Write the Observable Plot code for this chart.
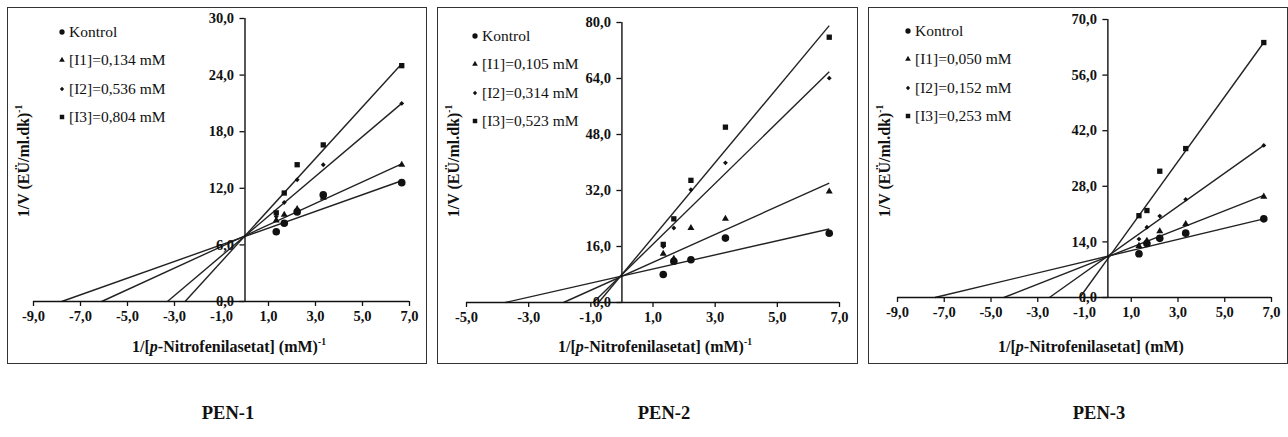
<!DOCTYPE html>
<html>
<head>
<meta charset="utf-8">
<script src="https://cdn.jsdelivr.net/npm/d3@7"></script>
<script src="https://cdn.jsdelivr.net/npm/@observablehq/plot@0.6"></script>
<style>
  body { margin: 0; background: #fff; }
  #root { position: relative; width: 1288px; height: 437px; font-family: "Liberation Serif", "Times New Roman", serif; color: #111; overflow: hidden; }
  .box { position: absolute; box-sizing: border-box; border: 1.5px solid #333; }
  .plot { position: absolute; }
  .ytitle, .xtitle, .pen { position: absolute; white-space: nowrap; font-weight: bold; }
  .ytitle { font-size: 16px; transform: translate(-50%, -50%) rotate(-90deg); }
  .xtitle { font-size: 16px; transform: translate(-50%, -50%); }
  .pen { font-size: 18.5px; transform: translate(-50%, -50%); }
  sup { font-size: 0.6em; vertical-align: 0.7em; line-height: 0; }
  .legend { position: absolute; font-size: 15.5px; }
  .legend .row { position: absolute; white-space: nowrap; transform: translateY(-50%); }
  .legend svg { position: absolute; overflow: visible; }
</style>
</head>
<body>
<div id="root"></div>
<script>
// ---------- data ----------
const xValues = [1.33, 1.67, 2.22, 3.33, 6.67];
const seriesSymbols = ["circle", "triangle", "diamond2", "square"];

// PEN-1
const pen1Kontrol = [7.4, 8.3, 9.5, 11.3, 12.6];
const pen1I1 = [8.6, 9.2, 9.8, 11.0, 14.5];
const pen1I2 = [9.0, 10.5, 12.9, 14.5, 21.0];
const pen1I3 = [9.4, 11.5, 14.5, 16.6, 25.0];
const pen1LineXIntercepts = [-7.8, -6.1, -3.3, -2.55];
const pen1LineEnds = [12.8, 14.6, 21.0, 25.2];
const pen1Legend = ["Kontrol", "[I1]=0,134 mM", "[I2]=0,536 mM", "[I3]=0,804 mM"];
const pen1XTicks = [-9, -7, -5, -3, -1, 1, 3, 5, 7];
const pen1YTicks = [0, 6, 12, 18, 24, 30];

// PEN-2
const pen2Kontrol = [8.0, 11.8, 12.2, 18.4, 19.8];
const pen2I1 = [13.9, 12.5, 21.3, 23.9, 31.7];
const pen2I2 = [16.0, 21.3, 32.2, 39.9, 64.1];
const pen2I3 = [16.6, 23.9, 34.9, 50.1, 75.8];
const pen2LineXIntercepts = [-3.75, -1.88, -0.92, -0.75];
const pen2LineEnds = [21.0, 34.1, 65.9, 79.1];
const pen2Legend = ["Kontrol", "[I1]=0,105 mM", "[I2]=0,314 mM", "[I3]=0,523 mM"];
const pen2XTicks = [-5, -3, -1, 1, 3, 5, 7];
const pen2YTicks = [0, 16, 32, 48, 64, 80];

// PEN-3
const pen3Kontrol = [11.0, 13.6, 14.9, 16.2, 19.8];
const pen3I1 = [13.0, 14.3, 16.7, 18.5, 25.4];
const pen3I2 = [14.7, 17.7, 20.5, 24.7, 38.3];
const pen3I3 = [20.6, 21.9, 31.8, 37.5, 64.2];
const pen3LineXIntercepts = [-7.4, -4.45, -2.5, -1.2];
const pen3LineEnds = [19.8, 25.7, 38.3, 64.2];
const pen3Legend = ["Kontrol", "[I1]=0,050 mM", "[I2]=0,152 mM", "[I3]=0,253 mM"];
const pen3XTicks = [-9, -7, -5, -3, -1, 1, 3, 5, 7];
const pen3YTicks = [0, 14, 28, 42, 56, 70];

const panelTitles = ["PEN-1", "PEN-2", "PEN-3"];
const yTitle = '1/V (EÜ/ml.dk)<sup>-1</sup>';
const xTitles = [
  '1/[<i>p</i>-Nitrofenilasetat] (mM)<sup>-1</sup>',
  '1/[<i>p</i>-Nitrofenilasetat] (mM)<sup>-1</sup>',
  '1/[<i>p</i>-Nitrofenilasetat] (mM)'
];

// ---------- layout ----------
const panels = [
  { series: [pen1Kontrol, pen1I1, pen1I2, pen1I3], xInt: pen1LineXIntercepts, ends: pen1LineEnds, legend: pen1Legend,
    xTicks: pen1XTicks, yTicks: pen1YTicks,
    left: 7, width: 420, mL: 26, mR: 18, mT: 11, mB: 63,
    legendX: 62, legendY: 32, titleX: 229, penX: 228 },
  { series: [pen2Kontrol, pen2I1, pen2I2, pen2I3], xInt: pen2LineXIntercepts, ends: pen2LineEnds, legend: pen2Legend,
    xTicks: pen2XTicks, yTicks: pen2YTicks,
    left: 437, width: 421, mL: 29, mR: 19, mT: 15, mB: 62,
    legendX: 475, legendY: 36, titleX: 655, penX: 664 },
  { series: [pen3Kontrol, pen3I1, pen3I2, pen3I3], xInt: pen3LineXIntercepts, ends: pen3LineEnds, legend: pen3Legend,
    xTicks: pen3XTicks, yTicks: pen3YTicks,
    left: 868, width: 420, mL: 29, mR: 17, mT: 12, mB: 67,
    legendX: 908, legendY: 31, titleX: 1091, penX: 1099 }
];
const TOP = 7, HEIGHT = 357;
const dotR = [3.8, 2.6, 2.2, 3.0];
const fmt = d => d.toFixed(1).replace(".", ",");
const root = document.getElementById("root");

panels.forEach((p, pi) => {
  const xDomain = [p.xTicks[0], p.xTicks[p.xTicks.length - 1]];
  const yDomain = [p.yTicks[0], p.yTicks[p.yTicks.length - 1]];
  const plotW = p.width - p.mL - p.mR;
  const zeroOffset = (0 - xDomain[0]) / (xDomain[1] - xDomain[0]) * plotW;
  const xEnd = xValues[xValues.length - 1];
  const lines = p.xInt.map((xi, i) => ({ x0: xi, y0: 0, x1: xEnd, y1: p.ends[i] }));
  const dotMarks = p.series.map((vals, si) =>
    Plot.dot(vals.map((v, j) => ({ x: xValues[j], y: v })), {
      x: "x", y: "y", symbol: seriesSymbols[si], r: dotR[si], fill: "#111", stroke: "none"
    })
  );
  const chart = Plot.plot({
    width: p.width, height: HEIGHT,
    marginLeft: p.mL, marginRight: p.mR, marginTop: p.mT, marginBottom: p.mB,
    x: { domain: xDomain },
    y: { domain: yDomain },
    style: { fontFamily: '"Liberation Serif", "Times New Roman", serif', fontSize: "14.5px", fontWeight: "bold", color: "#111", background: "transparent", overflow: "visible" },
    marks: [
      Plot.link(lines, { x1: "x0", y1: "y0", x2: "x1", y2: "y1", stroke: "#222", strokeWidth: 1.4 }),
      ...dotMarks,
      Plot.ruleY([0], { stroke: "#111", strokeWidth: 1.4 }),
      Plot.ruleX([0], { stroke: "#111", strokeWidth: 1.4 }),
      Plot.axisX({ ticks: p.xTicks, tickFormat: fmt, tickSize: 5, tickPadding: 4, label: null, strokeWidth: 1.3 }),
      Plot.axisY({ anchor: "left", dx: zeroOffset, ticks: p.yTicks, tickFormat: fmt, tickSize: 5, tickPadding: 6, label: null, strokeWidth: 1.3 })
    ]
  });
  chart.classList.add("plot");
  chart.style.left = p.left + "px";
  chart.style.top = TOP + "px";

  const box = document.createElement("div");
  box.className = "box";
  box.style.left = p.left + "px";
  box.style.top = TOP + "px";
  box.style.width = p.width + "px";
  box.style.height = HEIGHT + "px";
  root.appendChild(box);
  root.appendChild(chart);

  // legend
  const lg = document.createElement("div");
  lg.className = "legend";
  lg.style.left = "0px"; lg.style.top = "0px";
  const legendSym = [d3.symbolCircle, d3.symbolTriangle, d3.symbolDiamond2, d3.symbolSquare];
  const legendSize = [22, 14, 12, 20];
  p.legend.forEach((name, i) => {
    const cy = p.legendY + i * 28.3;
    const s = document.createElementNS("http://www.w3.org/2000/svg", "svg");
    s.setAttribute("width", 10); s.setAttribute("height", 10);
    s.style.left = (p.legendX - 5) + "px";
    s.style.top = (cy - 5) + "px";
    const path = document.createElementNS("http://www.w3.org/2000/svg", "path");
    path.setAttribute("d", d3.symbol(legendSym[i], legendSize[i])());
    path.setAttribute("transform", "translate(5,5)");
    path.setAttribute("fill", "#111");
    s.appendChild(path);
    lg.appendChild(s);
    const row = document.createElement("div");
    row.className = "row";
    row.style.left = (p.legendX + 7) + "px";
    row.style.top = cy + "px";
    row.textContent = name;
    lg.appendChild(row);
  });
  root.appendChild(lg);

  const yt = document.createElement("div");
  yt.className = "ytitle";
  yt.style.left = (p.left + 17) + "px";
  yt.style.top = "161px";
  yt.innerHTML = yTitle;
  root.appendChild(yt);

  const xt = document.createElement("div");
  xt.className = "xtitle";
  xt.style.left = p.titleX + "px";
  xt.style.top = "347px";
  xt.innerHTML = xTitles[pi];
  root.appendChild(xt);

  const pen = document.createElement("div");
  pen.className = "pen";
  pen.style.left = p.penX + "px";
  pen.style.top = "413px";
  pen.textContent = panelTitles[pi];
  root.appendChild(pen);
});
</script>
</body>
</html>
